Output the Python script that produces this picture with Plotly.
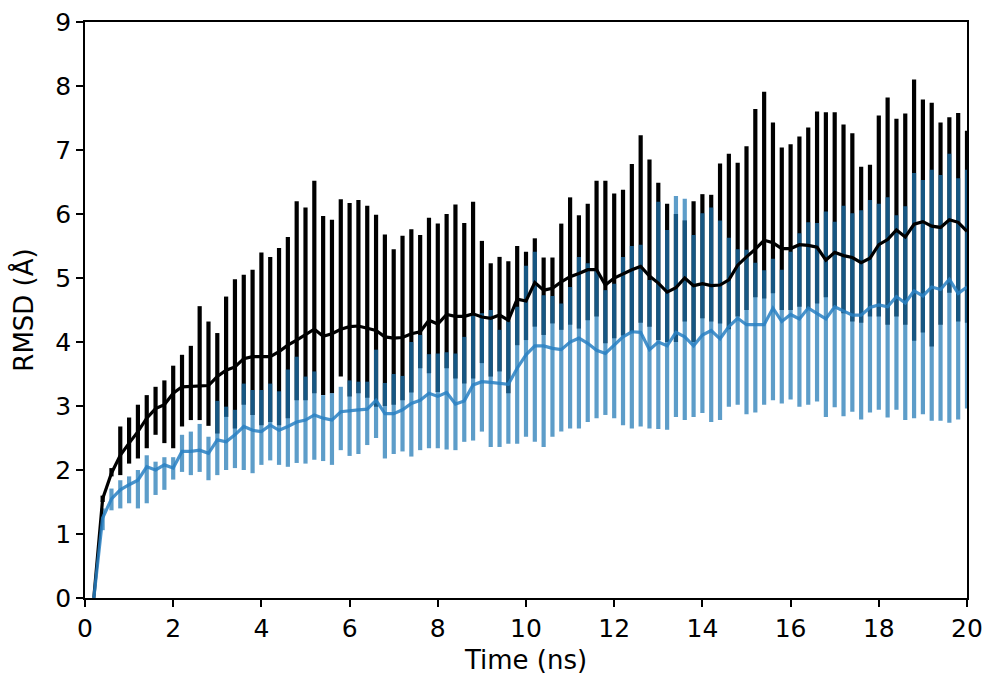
import plotly.graph_objects as go

time_ns = [round(0.2 * i, 1) for i in range(1, 101)]

black_mean = [0, 1.55, 1.95, 2.23, 2.42, 2.60, 2.81, 2.96, 3.02, 3.20,
              3.30, 3.31, 3.31, 3.32, 3.46, 3.56, 3.61, 3.74, 3.77, 3.77,
              3.77, 3.85, 3.95, 4.03, 4.11, 4.20, 4.09, 4.13, 4.20, 4.24,
              4.25, 4.21, 4.18, 4.08, 4.06, 4.07, 4.13, 4.16, 4.34, 4.28,
              4.43, 4.40, 4.40, 4.44, 4.39, 4.37, 4.42, 4.34, 4.67, 4.64,
              4.93, 4.81, 4.84, 4.94, 5.02, 5.07, 5.13, 5.13, 4.89, 5.00,
              5.07, 5.13, 5.18, 5.03, 4.92, 4.78, 4.85, 5.00, 4.88, 4.91,
              4.88, 4.89, 4.97, 5.20, 5.33, 5.45, 5.59, 5.55, 5.46, 5.46,
              5.52, 5.51, 5.48, 5.28, 5.40, 5.35, 5.32, 5.24, 5.31, 5.52,
              5.60, 5.75, 5.64, 5.84, 5.88, 5.81, 5.79, 5.91, 5.87, 5.73]
black_low = [0, 1.50, 1.90, 1.92, 2.10, 2.18, 2.34, 2.55, 2.42, 2.34,
             2.68, 2.78, 2.78, 2.69, 2.57, 2.83, 2.65, 3.02, 2.86, 2.70,
             2.75, 2.70, 2.81, 3.09, 3.09, 3.20, 3.17, 3.20, 3.46, 3.15,
             3.20, 3.13, 2.99, 3.00, 3.02, 3.09, 3.21, 3.59, 3.51, 3.22,
             3.59, 3.43, 3.35, 3.43, 3.67, 3.46, 3.54, 3.20, 3.95, 4.03,
             4.24, 4.11, 4.29, 4.19, 4.27, 4.21, 4.34, 4.40, 3.98, 4.06,
             4.10, 4.15, 4.30, 4.24, 4.03, 4.00, 4.00, 4.32, 4.00, 4.37,
             4.32, 4.29, 4.20, 4.40, 4.50, 4.70, 4.68, 4.76, 4.50, 4.50,
             4.55, 4.52, 4.60, 4.70, 4.55, 4.45, 4.32, 4.30, 4.40, 4.40,
             4.27, 4.40, 4.27, 4.02, 4.15, 3.93, 4.27, 4.77, 4.32, 4.30]
black_high = [0, 1.60, 2.03, 2.68, 2.82, 3.02, 3.17, 3.30, 3.40, 3.63,
              3.80, 3.94, 4.56, 4.32, 4.14, 4.71, 4.98, 5.05, 5.13, 5.40,
              5.33, 5.47, 5.64, 6.20, 6.10, 6.52, 5.97, 5.91, 6.23, 6.17,
              6.22, 6.13, 5.99, 5.68, 5.45, 5.66, 5.76, 5.67, 5.94, 5.85,
              6.00, 6.15, 5.86, 6.19, 5.58, 5.23, 5.33, 5.26, 5.50, 5.41,
              5.62, 5.32, 5.32, 5.85, 6.26, 5.98, 6.16, 6.52, 6.52, 6.32,
              6.38, 6.78, 7.23, 6.85, 6.49, 6.16, 6.00, 5.90, 6.20, 6.31,
              6.30, 6.79, 6.94, 6.80, 7.06, 7.64, 7.91, 7.43, 7.04, 7.09,
              7.21, 7.35, 7.60, 7.59, 7.59, 7.40, 7.26, 6.74, 6.77, 7.54,
              7.82, 7.49, 7.57, 8.10, 7.79, 7.74, 7.43, 7.51, 7.58, 7.30]

blue_mean = [0, 1.25, 1.55, 1.69, 1.77, 1.84, 2.05, 2.00, 2.08, 2.03,
             2.29, 2.29, 2.31, 2.26, 2.47, 2.44, 2.55, 2.68, 2.62, 2.60,
             2.70, 2.62, 2.68, 2.75, 2.78, 2.86, 2.81, 2.78, 2.91, 2.93,
             2.94, 2.95, 3.09, 2.88, 2.88, 2.94, 3.04, 3.09, 3.20, 3.15,
             3.21, 3.03, 3.08, 3.33, 3.38, 3.37, 3.35, 3.34, 3.59, 3.80,
             3.94, 3.94, 3.90, 3.88, 4.00, 4.06, 3.98, 3.87, 3.82, 3.95,
             4.08, 4.16, 4.15, 3.88, 4.00, 3.94, 4.15, 4.08, 3.94, 4.11,
             4.18, 4.05, 4.24, 4.37, 4.27, 4.27, 4.27, 4.53, 4.32, 4.43,
             4.36, 4.53, 4.45, 4.36, 4.55, 4.49, 4.42, 4.42, 4.54, 4.58,
             4.55, 4.71, 4.61, 4.80, 4.72, 4.86, 4.82, 4.98, 4.76, 4.86]
blue_low = [0, 1.06, 1.37, 1.40, 1.48, 1.40, 1.48, 1.61, 1.69, 1.85,
            1.97, 1.92, 1.97, 1.84, 1.92, 2.00, 2.03, 2.00, 1.95, 2.08,
            2.15, 2.08, 2.05, 2.11, 2.10, 2.16, 2.14, 2.08, 2.31, 2.22,
            2.25, 2.39, 2.50, 2.18, 2.25, 2.29, 2.21, 2.31, 2.34, 2.34,
            2.32, 2.31, 2.44, 2.46, 2.60, 2.36, 2.36, 2.41, 2.41, 2.52,
            2.44, 2.36, 2.52, 2.60, 2.65, 2.65, 2.75, 2.81, 2.86, 2.81,
            2.70, 2.65, 2.68, 2.65, 2.64, 2.63, 2.83, 2.78, 2.83, 2.89,
            2.75, 2.78, 2.99, 3.02, 2.87, 2.90, 3.02, 3.09, 3.04, 3.10,
            2.99, 3.02, 3.07, 2.83, 2.98, 2.84, 2.91, 2.79, 2.90, 2.94,
            2.82, 2.94, 2.78, 2.81, 2.87, 2.77, 2.77, 2.74, 2.79, 2.96]
blue_high = [0, 1.40, 1.71, 1.84, 1.90, 2.00, 2.23, 2.13, 2.20, 2.20,
             2.55, 2.60, 2.72, 2.52, 3.08, 2.99, 2.94, 3.35, 3.25, 3.25,
             3.35, 3.23, 3.57, 3.77, 3.46, 3.54, 3.17, 3.20, 3.30, 3.40,
             3.38, 3.38, 3.88, 3.36, 3.50, 3.47, 4.00, 4.11, 3.81, 3.82,
             3.84, 3.82, 4.08, 4.45, 4.45, 4.50, 4.19, 4.32, 4.55, 5.19,
             5.41, 4.73, 4.72, 4.60, 4.86, 5.33, 5.23, 5.13, 4.81, 4.91,
             5.33, 5.50, 5.52, 4.97, 6.19, 5.75, 6.28, 6.24, 5.67, 6.01,
             6.10, 5.90, 5.63, 5.45, 5.44, 5.24, 5.12, 5.30, 5.13, 5.41,
             5.70, 5.87, 5.86, 6.04, 5.88, 6.13, 6.01, 6.06, 6.22, 6.16,
             6.26, 5.98, 6.12, 6.64, 6.53, 6.69, 6.61, 6.94, 6.56, 6.69]

x_ticks = list(range(0, 21, 2))
y_ticks = list(range(0, 10))

BLUE = "rgba(31,119,180,0.72)"
FONT = "DejaVu Sans"


def err(mean, low, high):
    return dict(type="data", symmetric=False,
                array=[h - m for m, h in zip(mean, high)],
                arrayminus=[m - l for m, l in zip(mean, low)],
                width=0, thickness=4.2)


fig = go.Figure()
fig.add_trace(go.Scatter(x=time_ns, y=black_mean, mode="markers",
                         marker=dict(size=1, color="rgba(0,0,0,0)"),
                         error_y=dict(err(black_mean, black_low, black_high), color="black"),
                         showlegend=False, hoverinfo="skip"))
fig.add_trace(go.Scatter(x=time_ns, y=blue_mean, mode="markers",
                         marker=dict(size=1, color="rgba(0,0,0,0)"),
                         error_y=dict(err(blue_mean, blue_low, blue_high), color=BLUE),
                         showlegend=False, hoverinfo="skip"))
fig.add_trace(go.Scatter(x=time_ns, y=black_mean, mode="lines",
                         line=dict(color="black", width=3.2), showlegend=False))
fig.add_trace(go.Scatter(x=time_ns, y=blue_mean, mode="lines",
                         line=dict(color="rgba(40,128,195,0.85)", width=3.2), showlegend=False))

axis_common = dict(showline=True, linecolor="black", linewidth=1.5, mirror=True,
                   ticks="outside", ticklen=7, tickwidth=1.5, tickcolor="black",
                   showgrid=False, zeroline=False, automargin=False,
                   tickfont=dict(family=FONT, size=25, color="black"))

fig.update_layout(
    width=987, height=675,
    margin=dict(l=85, r=20, t=22, b=77),
    plot_bgcolor="white", paper_bgcolor="white",
    xaxis=dict(axis_common, range=[0, 20], tickvals=x_ticks,
               title=dict(text="Time (ns)", font=dict(family=FONT, size=26, color="black"), standoff=9)),
    yaxis=dict(axis_common, range=[0, 9], tickvals=y_ticks,
               title=dict(text="RMSD (Å)", font=dict(family=FONT, size=26, color="black"), standoff=14)),
)

fig.write_html("out.html")
